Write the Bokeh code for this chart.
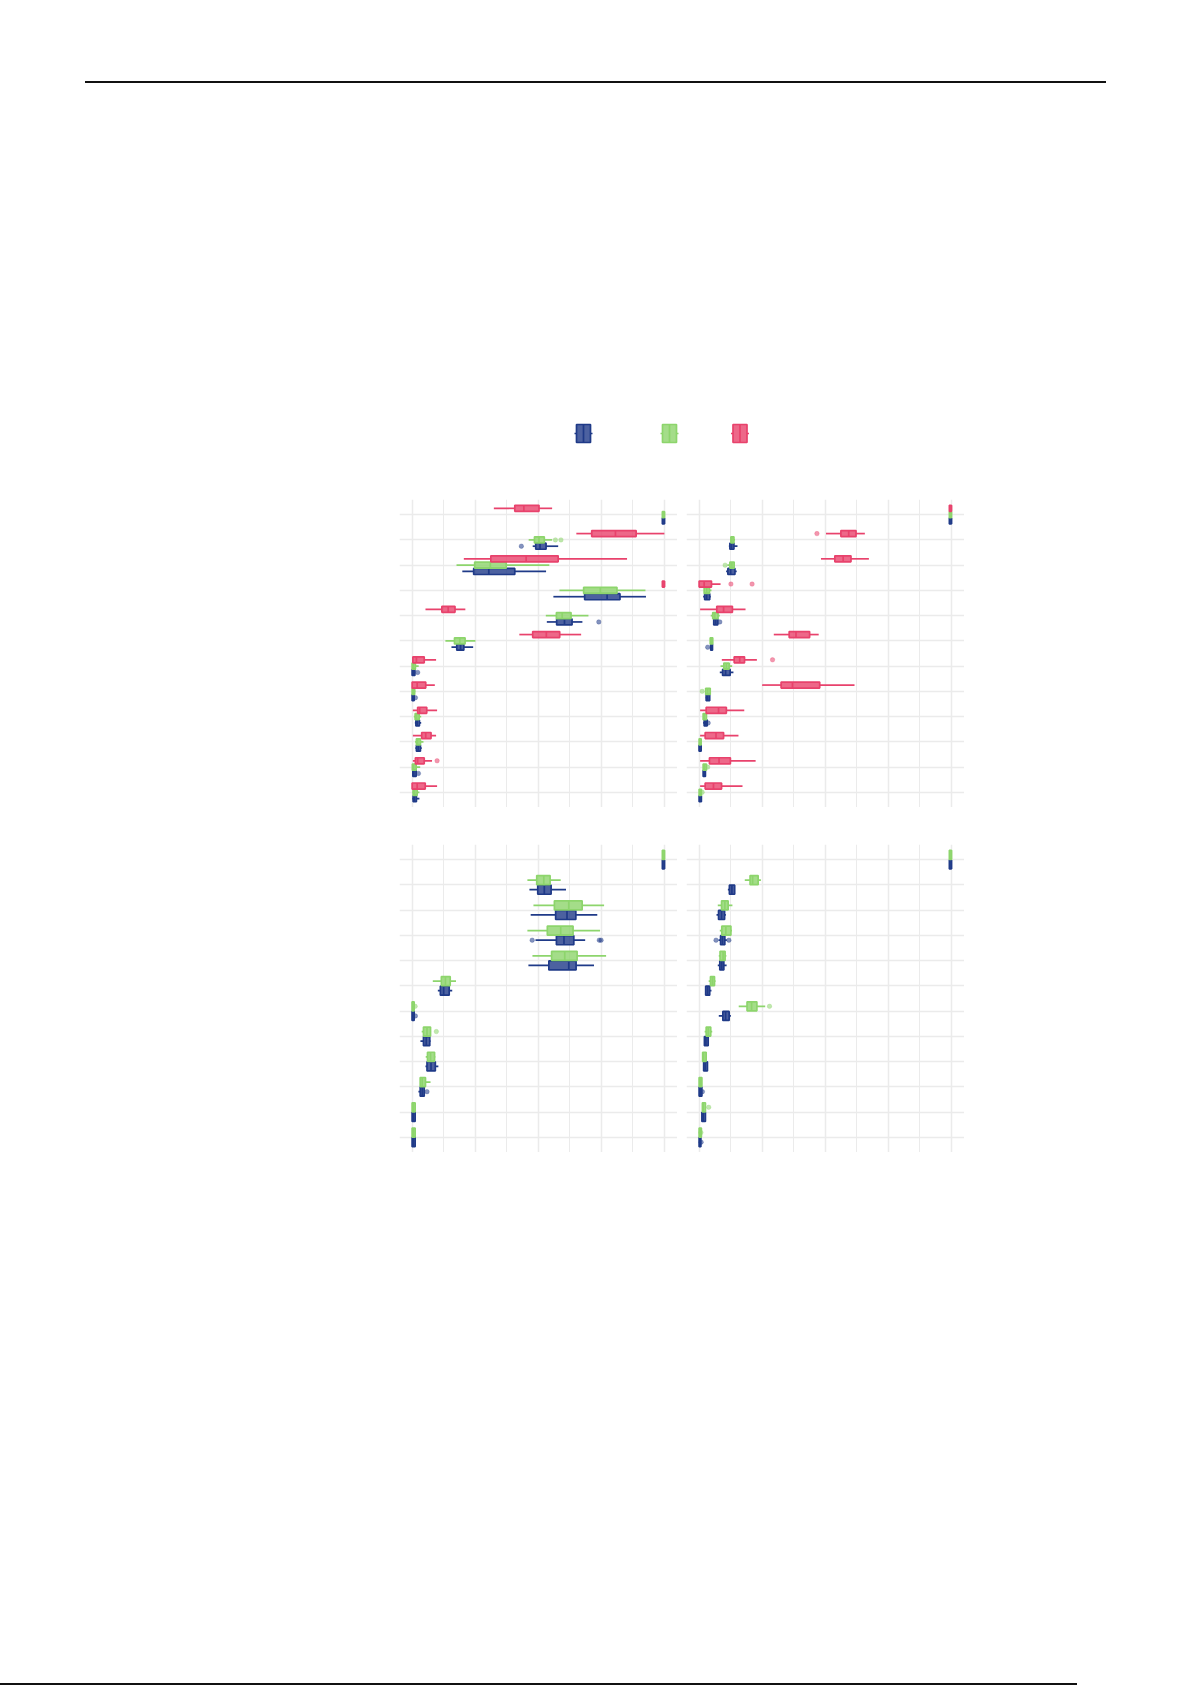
from bokeh.plotting import figure
from bokeh.models import Range1d, FixedTicker, Spacer, Div, ColumnDataSource
from bokeh.layouts import column, row
from bokeh.embed import file_html
from bokeh.resources import INLINE

# ---------------- data (proportions, 5-number summaries: lo, q1, median, q3, hi) ----------------
ROWS = list(range(1, 13))

TL_red = [
    (0.324, 0.407, 0.443, 0.503, 0.555),
    (0.651, 0.712, 0.806, 0.888, 1.000),
    (0.205, 0.312, 0.452, 0.579, 0.852),
    (0.992, 0.992, 1.000, 1.000, 1.000),
    (0.053, 0.118, 0.143, 0.170, 0.211),
    (0.425, 0.478, 0.532, 0.585, 0.670),
    (0.003, 0.003, 0.017, 0.048, 0.095),
    (0.000, 0.000, 0.020, 0.054, 0.090),
    (0.003, 0.022, 0.030, 0.058, 0.099),
    (0.003, 0.038, 0.054, 0.075, 0.095),
    (0.003, 0.013, 0.022, 0.048, 0.079),
    (0.000, 0.000, 0.020, 0.052, 0.099),
]
TL_red_out = {11: [0.099]}

TL_green = [
    (0.992, 0.992, 1.000, 1.000, 1.000),
    (0.462, 0.485, 0.503, 0.524, 0.555),
    (0.176, 0.248, 0.310, 0.373, 0.544),
    (0.584, 0.680, 0.746, 0.812, 0.925),
    (0.530, 0.572, 0.595, 0.630, 0.699),
    (0.132, 0.168, 0.189, 0.210, 0.251),
    (0.000, 0.000, 0.005, 0.013, 0.026),
    (0.000, 0.000, 0.004, 0.010, 0.013),
    (0.007, 0.012, 0.018, 0.028, 0.036),
    (0.012, 0.017, 0.022, 0.033, 0.045),
    (0.001, 0.001, 0.006, 0.016, 0.032),
    (0.001, 0.004, 0.010, 0.020, 0.029),
]
TL_green_out = {2: [0.568, 0.590]}

TL_blue = [
    (0.992, 0.992, 1.000, 1.000, 1.000),
    (0.478, 0.490, 0.507, 0.531, 0.579),
    (0.199, 0.244, 0.304, 0.407, 0.531),
    (0.560, 0.684, 0.773, 0.824, 0.927),
    (0.534, 0.573, 0.604, 0.634, 0.675),
    (0.156, 0.177, 0.192, 0.205, 0.242),
    (0.000, 0.000, 0.004, 0.011, 0.011),
    (0.000, 0.000, 0.003, 0.008, 0.008),
    (0.011, 0.015, 0.020, 0.029, 0.036),
    (0.013, 0.017, 0.024, 0.033, 0.038),
    (0.001, 0.003, 0.007, 0.016, 0.016),
    (0.001, 0.004, 0.009, 0.017, 0.029),
]
TL_blue_out = {2: [0.433], 5: [0.740], 7: [0.022], 8: [0.013], 11: [0.025]}

TR_red = [
    (0.992, 0.992, 1.000, 1.000, 1.000),
    (0.503, 0.562, 0.593, 0.622, 0.657),
    (0.483, 0.538, 0.571, 0.602, 0.673),
    (0.000, 0.000, 0.020, 0.049, 0.085),
    (0.004, 0.070, 0.097, 0.132, 0.184),
    (0.296, 0.357, 0.384, 0.438, 0.474),
    (0.090, 0.139, 0.161, 0.180, 0.229),
    (0.250, 0.325, 0.370, 0.478, 0.616),
    (0.004, 0.028, 0.077, 0.108, 0.179),
    (0.004, 0.024, 0.067, 0.097, 0.156),
    (0.004, 0.041, 0.079, 0.124, 0.224),
    (0.004, 0.024, 0.057, 0.089, 0.172),
]
TR_red_out = {2: [0.467], 4: [0.126, 0.210], 7: [0.291]}

TR_green = [
    (0.992, 0.992, 1.000, 1.000, 1.000),
    (0.124, 0.126, 0.130, 0.138, 0.142),
    (0.112, 0.122, 0.130, 0.139, 0.142),
    (0.020, 0.020, 0.030, 0.041, 0.049),
    (0.046, 0.054, 0.062, 0.075, 0.082),
    (0.044, 0.044, 0.048, 0.054, 0.054),
    (0.085, 0.098, 0.108, 0.119, 0.131),
    (0.026, 0.026, 0.034, 0.044, 0.044),
    (0.016, 0.016, 0.020, 0.029, 0.029),
    (0.000, 0.000, 0.003, 0.008, 0.008),
    (0.016, 0.016, 0.020, 0.029, 0.029),
    (0.000, 0.000, 0.004, 0.009, 0.009),
]
TR_green_out = {3: [0.103], 8: [0.012], 11: [0.034], 12: [0.012]}

TR_blue = [
    (0.992, 0.992, 1.000, 1.000, 1.000),
    (0.118, 0.122, 0.129, 0.138, 0.152),
    (0.107, 0.114, 0.125, 0.142, 0.149),
    (0.016, 0.022, 0.030, 0.042, 0.046),
    (0.058, 0.058, 0.066, 0.074, 0.074),
    (0.044, 0.046, 0.048, 0.053, 0.053),
    (0.082, 0.093, 0.105, 0.123, 0.136),
    (0.026, 0.028, 0.034, 0.042, 0.042),
    (0.016, 0.020, 0.026, 0.032, 0.032),
    (0.000, 0.000, 0.002, 0.008, 0.008),
    (0.016, 0.016, 0.020, 0.025, 0.025),
    (0.000, 0.000, 0.003, 0.009, 0.009),
]
TR_blue_out = {5: [0.082], 6: [0.034], 9: [0.036]}

BL_green = [
    (0.992, 0.992, 1.000, 1.000, 1.000),
    (0.457, 0.494, 0.522, 0.547, 0.589),
    (0.481, 0.564, 0.621, 0.674, 0.761),
    (0.457, 0.536, 0.589, 0.638, 0.745),
    (0.477, 0.553, 0.605, 0.654, 0.769),
    (0.082, 0.116, 0.132, 0.151, 0.174),
    (0.000, 0.000, 0.002, 0.008, 0.008),
    (0.038, 0.045, 0.059, 0.073, 0.075),
    (0.054, 0.061, 0.073, 0.089, 0.092),
    (0.032, 0.032, 0.040, 0.053, 0.073),
    (0.000, 0.000, 0.005, 0.012, 0.012),
    (0.000, 0.000, 0.005, 0.012, 0.014),
]
BL_green_out = {7: [0.012], 8: [0.096]}

BL_blue = [
    (0.992, 0.992, 1.000, 1.000, 1.000),
    (0.465, 0.498, 0.524, 0.551, 0.610),
    (0.470, 0.569, 0.614, 0.649, 0.734),
    (0.489, 0.572, 0.602, 0.641, 0.686),
    (0.461, 0.542, 0.621, 0.650, 0.721),
    (0.102, 0.112, 0.125, 0.147, 0.159),
    (0.000, 0.000, 0.002, 0.008, 0.008),
    (0.033, 0.045, 0.056, 0.070, 0.073),
    (0.053, 0.059, 0.075, 0.092, 0.104),
    (0.025, 0.032, 0.040, 0.048, 0.048),
    (0.000, 0.000, 0.005, 0.012, 0.012),
    (0.000, 0.000, 0.005, 0.012, 0.012),
]
BL_blue_out = {4: [0.476, 0.742, 0.749], 7: [0.013], 10: [0.059]}

BR_green = [
    (0.992, 0.992, 1.000, 1.000, 1.000),
    (0.181, 0.202, 0.212, 0.234, 0.245),
    (0.074, 0.089, 0.102, 0.115, 0.132),
    (0.082, 0.090, 0.106, 0.126, 0.130),
    (0.078, 0.083, 0.095, 0.103, 0.108),
    (0.038, 0.045, 0.053, 0.061, 0.065),
    (0.157, 0.190, 0.208, 0.229, 0.262),
    (0.022, 0.028, 0.036, 0.046, 0.052),
    (0.014, 0.014, 0.018, 0.028, 0.030),
    (0.000, 0.000, 0.004, 0.011, 0.011),
    (0.013, 0.013, 0.016, 0.025, 0.025),
    (0.000, 0.000, 0.004, 0.009, 0.009),
]
BR_green_out = {7: [0.279], 11: [0.038], 12: [0.007]}

BR_blue = [
    (0.992, 0.992, 1.000, 1.000, 1.000),
    (0.114, 0.120, 0.130, 0.141, 0.141),
    (0.069, 0.077, 0.089, 0.101, 0.106),
    (0.077, 0.085, 0.093, 0.102, 0.110),
    (0.074, 0.082, 0.090, 0.098, 0.109),
    (0.026, 0.026, 0.034, 0.042, 0.049),
    (0.078, 0.094, 0.105, 0.119, 0.126),
    (0.020, 0.021, 0.027, 0.036, 0.038),
    (0.018, 0.018, 0.024, 0.033, 0.033),
    (0.000, 0.000, 0.004, 0.011, 0.011),
    (0.011, 0.011, 0.016, 0.025, 0.025),
    (0.000, 0.000, 0.003, 0.007, 0.007),
]
BR_blue_out = {4: [0.067, 0.118], 10: [0.013], 12: [0.008]}

X_MAJOR = [0, 0.25, 0.5, 0.75, 1.0]
X_MINOR = [0.125, 0.375, 0.625, 0.875]

# ---------------- styling ----------------
COL = {"blue": "#1F3A88", "green": "#8DD56C", "red": "#E8426C"}
FILL_ALPHA = 0.8
LW = 1.7
GRID = "#EBEBEB"

PANEL_W, PANEL_H = 278, 308


def add_group(p, stats, outliers, color, offset, h):
    y = [r + offset for r in ROWS]
    lo, q1, med, q3, hi = (list(c) for c in zip(*stats))
    src = ColumnDataSource(dict(y=y, lo=lo, q1=q1, med=med, q3=q3, hi=hi,
                                yt=[v - h / 2 for v in y], yb=[v + h / 2 for v in y]))
    p.segment(x0="lo", y0="y", x1="q1", y1="y", source=src, line_color=color, line_width=LW)
    p.segment(x0="q3", y0="y", x1="hi", y1="y", source=src, line_color=color, line_width=LW)
    p.hbar(y="y", left="q1", right="q3", height=h, source=src, fill_color=color,
           fill_alpha=FILL_ALPHA, line_color=color, line_width=LW)
    p.segment(x0="med", y0="yt", x1="med", y1="yb", source=src, line_color=color, line_width=LW)
    ox, oy = [], []
    for r, vals in outliers.items():
        for v in vals:
            ox.append(v)
            oy.append(r + offset)
    if ox:
        p.scatter(x=ox, y=oy, size=4.5, fill_color=color, fill_alpha=0.55,
                  line_color=color, line_alpha=0.55, line_width=0.5)


def panel(groups):
    p = figure(width=PANEL_W, height=PANEL_H, x_range=Range1d(-0.05, 1.052),
               y_range=Range1d(12.6, 0.4), output_backend="svg", toolbar_location=None,
               min_border=0, x_axis_location=None, y_axis_location=None)
    p.outline_line_color = None
    p.xgrid.ticker = FixedTicker(ticks=X_MAJOR, minor_ticks=X_MINOR)
    p.xgrid.grid_line_color = GRID
    p.xgrid.grid_line_width = 1.5
    p.xgrid.minor_grid_line_color = GRID
    p.xgrid.minor_grid_line_width = 1.0
    p.ygrid.ticker = FixedTicker(ticks=ROWS)
    p.ygrid.grid_line_color = GRID
    p.ygrid.grid_line_width = 1.5
    n = len(groups)
    if n == 3:
        offsets, h = [0.25, 0.0, -0.25], 0.24
    else:
        offsets, h = [0.19, -0.19], 0.36
    for (stats, outs, cname), off in zip(groups, offsets):
        add_group(p, stats, outs, COL[cname], off, h)
    return p


tl = panel([(TL_blue, TL_blue_out, "blue"), (TL_green, TL_green_out, "green"), (TL_red, TL_red_out, "red")])
tr = panel([(TR_blue, TR_blue_out, "blue"), (TR_green, TR_green_out, "green"), (TR_red, TR_red_out, "red")])
bl = panel([(BL_blue, BL_blue_out, "blue"), (BL_green, BL_green_out, "green")])
br = panel([(BR_blue, BR_blue_out, "blue"), (BR_green, BR_green_out, "green")])

# ---------------- legend (keys only) ----------------
LEG_W, LEG_H = 190, 24
LEG_KEYS = ["blue", "green", "red"]
LEG_X = [15, 101, 171.5]
leg = figure(width=LEG_W, height=LEG_H, x_range=Range1d(0, LEG_W), y_range=Range1d(0, LEG_H),
             output_backend="svg", toolbar_location=None, min_border=0,
             x_axis_location=None, y_axis_location=None)
leg.outline_line_color = None
leg.grid.visible = False
for k, cx in zip(LEG_KEYS, LEG_X):
    c = COL[k]
    leg.segment(x0=[cx - 9], y0=[12], x1=[cx + 9], y1=[12], line_color=c, line_width=LW)
    leg.quad(left=[cx - 7], right=[cx + 7], bottom=[3], top=[21], fill_color="white",
             line_color=None)
    leg.quad(left=[cx - 7], right=[cx + 7], bottom=[3], top=[21], fill_color=c,
             fill_alpha=FILL_ALPHA, line_color=c, line_width=LW)
    leg.segment(x0=[cx], y0=[3], x1=[cx], y1=[21], line_color=c, line_width=LW)


def hline(w, h=2):
    return Div(text="", width=w, height=h, margin=(0, 0, 0, 0),
               styles={"background-color": "#111111"})


# the page template has no body margin, so offsets below are page coordinates
layout = column(
    Spacer(width=1, height=81),
    row(Spacer(width=85, height=2), hline(1021, 2)),
    Spacer(width=1, height=338),
    row(Spacer(width=568, height=LEG_H), leg),
    Spacer(width=1, height=54),
    row(Spacer(width=399, height=PANEL_H), tl, Spacer(width=9, height=PANEL_H), tr),
    Spacer(width=1, height=37),
    row(Spacer(width=399, height=PANEL_H), bl, Spacer(width=9, height=PANEL_H), br),
    Spacer(width=1, height=531),
    row(hline(1077, 2)),
)

open("out.html", "w").write(file_html(layout, INLINE))
